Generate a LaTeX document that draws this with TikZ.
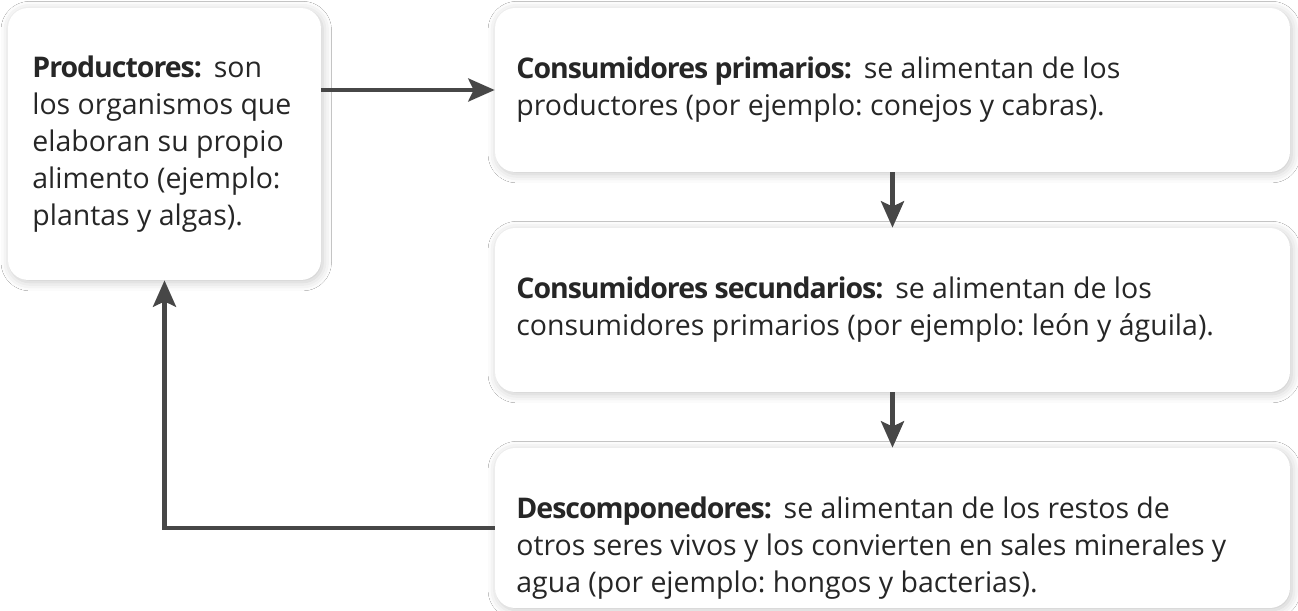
\documentclass[tikz,border=0pt]{standalone}
\usepackage{fontspec}
\setmainfont{Open Sans}[BoldFeatures={LetterSpace=-3.5}]
\usetikzlibrary{arrows.meta,shadows.blur}
\definecolor{flowgray}{HTML}{474747}
\definecolor{inkgray}{HTML}{262626}
\frenchspacing
\begin{document}
\begin{tikzpicture}[x=0.02cm,y=-0.02cm,
  card/.style={draw=none,fill=white,rounded corners=0.4cm,inner sep=0pt,
    blur shadow={shadow xshift=1pt,shadow yshift=-1.2pt,shadow blur radius=5pt,shadow opacity=22}},
  txt/.style={anchor=north west,inner sep=0pt,align=left,text=inkgray,
    font=\fontsize{16.2pt}{21pt}\selectfont},
  flow/.style={draw=flowgray,line width=2.8pt,-{Stealth[length=15pt,width=13pt,inset=3pt]}}]
  \useasboundingbox[fill=white] (0,0) rectangle (1298,611);
  % cajas
  \node[card,minimum width=6.26cm,minimum height=5.44cm] (prod) at (164.5,144) {};
  \node[card,minimum width=15.9cm,minimum height=3.28cm] (cprim) at (892.5,90) {};
  \node[card,minimum width=15.9cm,minimum height=3.28cm] (csec) at (892.5,310) {};
  \node[card,minimum width=15.9cm,minimum height=3.2cm] (desc) at (892.5,528) {};
  % textos
  \node[txt] (prodtxt) at (32,56) {\textbf{Productores:}\hspace{0.45em}son\\
    los organismos que\\ elaboran su propio\\ alimento (ejemplo:\\ plantas y algas).};
  \node[txt] (cprimtxt) at (516,57) {\textbf{Consumidores primarios:}\hspace{0.45em}se alimentan de los\\
    productores (por ejemplo: conejos y cabras).};
  \node[txt] (csectxt) at (516,277) {\textbf{Consumidores secundarios:}\hspace{0.45em}se alimentan de los\\
    consumidores primarios (por ejemplo: le\'on y \'aguila).};
  \node[txt] (desctxt) at (516,497) {\textbf{Descomponedores:}\hspace{0.45em}se alimentan de los restos de\\
    otros seres vivos y los convierten en sales minerales y\\
    agua (por ejemplo: hongos y bacterias).};
  % flechas
  \draw[flow] (prod.east |- cprim.west) -- (cprim.west);
  \draw[flow] (cprim.south) -- (csec.north);
  \draw[flow] (csec.south) -- (desc.north);
  \draw[flow] (desc.west) -| (prod.south);
\end{tikzpicture}
\end{document}
